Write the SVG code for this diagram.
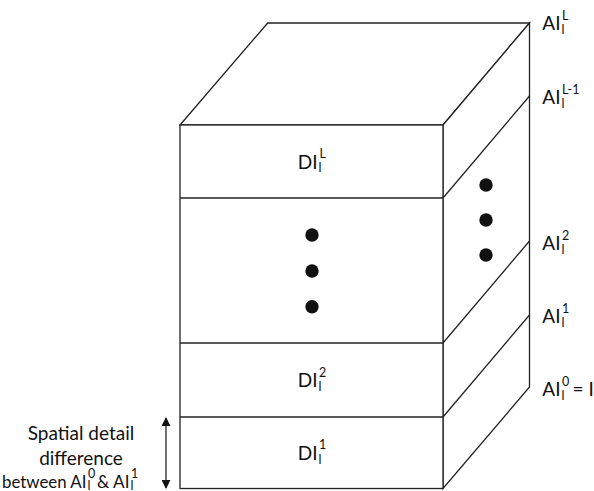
<svg xmlns="http://www.w3.org/2000/svg" width="594" height="491" viewBox="0 0 594 491">
<defs>
<style>
.ln{fill:none;stroke:#222;stroke-width:1.3;stroke-linejoin:miter}
.fc{fill:#fff;stroke:#222;stroke-width:1.3}
.t{font-family:Lato,"Open Sans","Liberation Sans",sans-serif;font-size:19px;fill:#111}
.s{font-size:12.5px}
.b{font-size:18px}
.dot{fill:#111}
</style>
<marker id="ah" viewBox="0 0 10 10" refX="9" refY="5" markerWidth="9" markerHeight="9" markerUnits="userSpaceOnUse" orient="auto-start-reverse">
<path d="M0,0 L10,5 L0,10 z" fill="#111"/>
</marker>
</defs>
<rect width="594" height="491" fill="#fff"/>
<g id="cube">
<polygon id="top-face" class="fc" points="180,125 267.7,23 529.5,23 443,125"/>
<polygon id="side-face" class="fc" points="443,125 529.5,23 529.5,387 443,488.5"/>
<rect id="front-face" class="fc" x="180" y="125" width="263" height="363.5"/>
<g id="layers" class="ln">
<line x1="180" y1="198" x2="443" y2="198"/>
<line x1="180" y1="343" x2="443" y2="343"/>
<line x1="180" y1="417" x2="443" y2="417"/>
<line x1="443" y1="198" x2="529.5" y2="96"/>
<line x1="443" y1="343" x2="529.5" y2="241"/>
<line x1="443" y1="417" x2="529.5" y2="315"/>
</g>
</g>
<g id="dots-front">
<circle class="dot" cx="312" cy="235" r="6.7"/>
<circle class="dot" cx="312" cy="271" r="6.7"/>
<circle class="dot" cx="312" cy="306.7" r="6.7"/>
</g>
<g id="dots-side">
<circle class="dot" cx="486" cy="185" r="6.7"/>
<circle class="dot" cx="486" cy="220" r="6.7"/>
<circle class="dot" cx="486" cy="255" r="6.7"/>
</g>
<g id="DI-L" class="t"><text text-anchor="end" x="317.5" y="168.5">DI</text><text class="s" x="318.5" y="172">l</text><text class="s" x="319.5" y="158">L</text></g>
<g id="DI-2" class="t"><text text-anchor="end" x="317.5" y="387">DI</text><text class="s" x="318.5" y="390.5">l</text><text class="s" x="319" y="377">2</text></g>
<g id="DI-1" class="t"><text text-anchor="end" x="317.5" y="460">DI</text><text class="s" x="318.5" y="463.5">l</text><text class="s" x="319" y="449">1</text></g>
<g id="AI-L" class="t"><text text-anchor="end" x="560.5" y="30">AI</text><text class="s" x="561.5" y="33.5">l</text><text class="s" x="562" y="20">L</text></g>
<g id="AI-L-1" class="t"><text text-anchor="end" x="560.5" y="104">AI</text><text class="s" x="561.5" y="107.5">l</text><text class="s" x="562" y="94">L-1</text></g>
<g id="AI-2" class="t"><text text-anchor="end" x="560.5" y="250">AI</text><text class="s" x="561.5" y="253.5">l</text><text class="s" x="562" y="240">2</text></g>
<g id="AI-1" class="t"><text text-anchor="end" x="560.5" y="323">AI</text><text class="s" x="561.5" y="326.5">l</text><text class="s" x="562" y="313">1</text></g>
<g id="AI-0" class="t"><text text-anchor="end" x="560.5" y="396">AI</text><text class="s" x="561.5" y="399.5">l</text><text class="s" x="562" y="386">0</text><text x="572.5" y="396">= I</text></g>
<g id="note" class="t">
<text text-anchor="middle" x="81" y="440">Spatial detail</text>
<text text-anchor="middle" x="81" y="464.5">difference</text>
<text class="b" x="2" y="487.5" textLength="84.5" lengthAdjust="spacingAndGlyphs">between AI</text><text class="s" x="87.5" y="489.5">l</text><text class="s" x="88" y="478">0</text>
<text class="b" x="97" y="487.5" textLength="32.5" lengthAdjust="spacingAndGlyphs">&amp; AI</text><text class="s" x="130.5" y="489.5">l</text><text class="s" x="131" y="478">1</text>
</g>
<g id="connectors">
<line class="ln" x1="166" y1="418" x2="166" y2="488" stroke="#111" stroke-width="1.6" marker-start="url(#ah)" marker-end="url(#ah)"/>
</g>
</svg>
